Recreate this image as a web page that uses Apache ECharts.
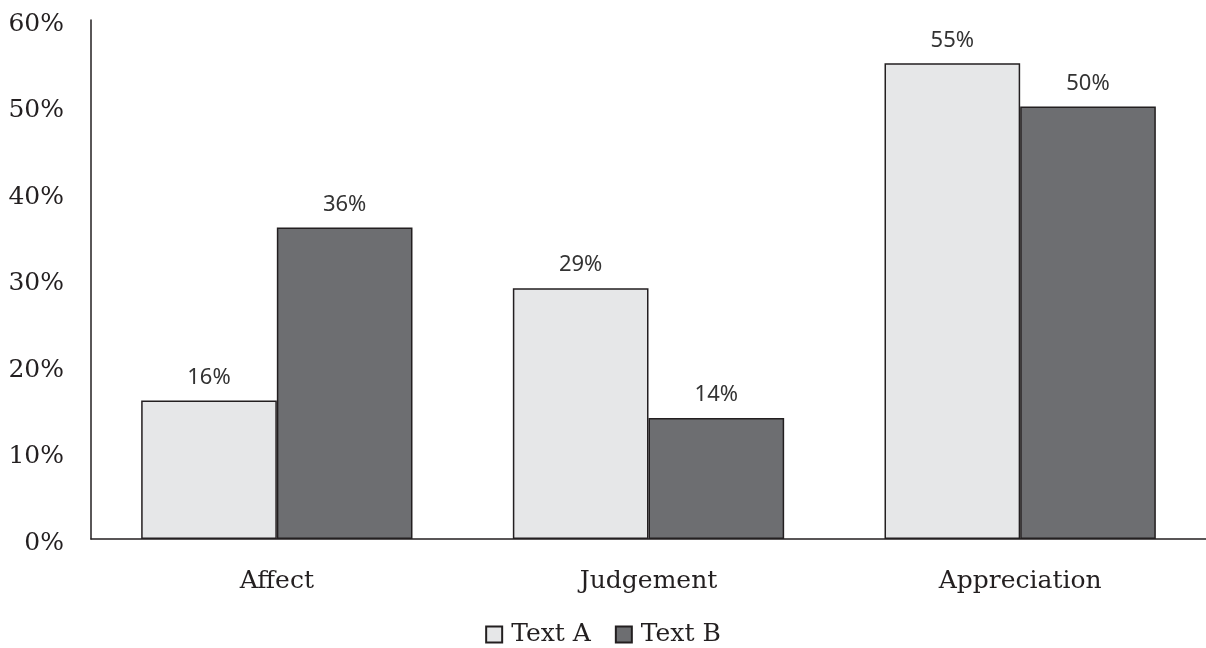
<!DOCTYPE html>
<html>
<head>
<meta charset="utf-8">
<script src="https://cdn.jsdelivr.net/npm/echarts@6/dist/echarts.min.js"></script>
<style>
  html, body { margin: 0; padding: 0; background: #fff; }
  #chart { width: 1206px; height: 648px; }
</style>
</head>
<body>
<div id="chart"></div>
<script>
// categories and values (percent)
var categories = ['Affect', 'Judgement', 'Appreciation'];
var textA = [16, 29, 55];
var textB = [36, 14, 50];
var seriesNames = ['Text A', 'Text B'];

var serif = 'DejaVu Serif';
var myChart = echarts.init(document.getElementById('chart'));

function barSeries(name, data, color) {
  return {
    name: name,
    type: 'bar',
    data: data,
    barGap: '0%',
    barCategoryGap: '27%',
    itemStyle: { color: color, borderColor: '#231f20', borderWidth: 1.5 },
    label: {
      show: true,
      position: 'top',
      distance: 12,
      formatter: '{c}%',
      fontFamily: 'Noto Sans',
      fontSize: 22,
      color: '#333333'
    }
  };
}

var option = {
  animation: false,
  grid: { left: 91, right: -4, top: 20, bottom: 109 },
  legend: {
    data: seriesNames,
    bottom: -4,
    left: 'center',
    icon: 'rect',
    itemWidth: 16,
    itemHeight: 16,
    itemGap: 24,
    textStyle: { fontFamily: serif, fontSize: 25, color: '#231f20', padding: [0, 0, 0, 4] }
  },
  xAxis: {
    type: 'category',
    data: categories,
    axisLine: { lineStyle: { color: '#231f20', width: 1.5 } },
    axisTick: { show: false },
    axisLabel: { margin: 30, fontFamily: serif, fontSize: 25, color: '#231f20' }
  },
  yAxis: {
    type: 'value',
    min: 0,
    max: 60,
    interval: 10,
    axisLine: { show: true, lineStyle: { color: '#231f20', width: 1.5 } },
    axisTick: { show: false },
    splitLine: { show: false },
    axisLabel: {
      margin: 27,
      formatter: function (value) {
        return '{v|' + value + '%}';
      },
      rich: {
        v: { padding: [8, 0, 0, 0], fontFamily: serif, fontSize: 25, color: '#231f20' }
      }
    }
  },
  series: [
    barSeries(seriesNames[0], textA, '#e6e7e8'),
    barSeries(seriesNames[1], textB, '#6d6e71')
  ]
};

myChart.setOption(option);
</script>
</body>
</html>
